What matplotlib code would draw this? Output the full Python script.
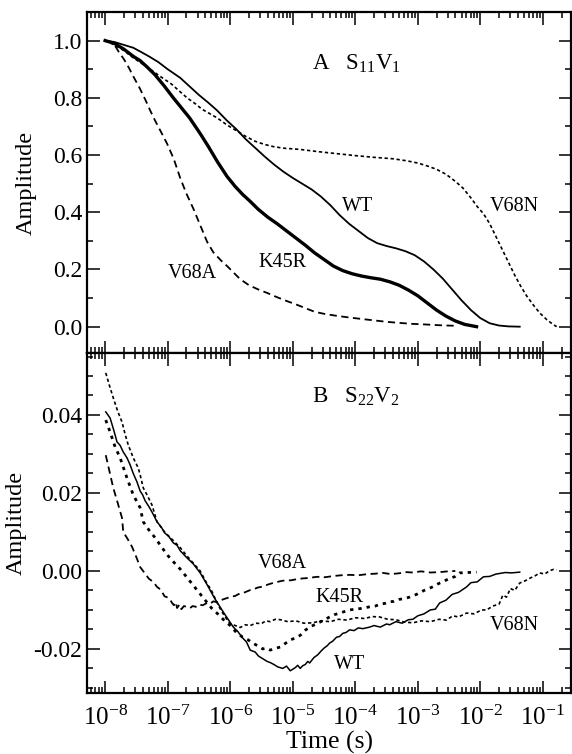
import numpy as np
import matplotlib
matplotlib.use("Agg")
import matplotlib.pyplot as plt
from matplotlib.ticker import LogLocator, MultipleLocator, NullFormatter

plt.rcParams['font.family'] = ['Liberation Serif', 'DejaVu Serif']
plt.rcParams['mathtext.fontset'] = 'custom'
plt.rcParams['mathtext.rm'] = 'Liberation Serif'
plt.rcParams['mathtext.it'] = 'Liberation Serif:italic'
plt.rcParams['axes.unicode_minus'] = False

# ---- panel A : S11V1, time given as log10(t / s) ----
wt_a_logt = [-8.0, -7.85, -7.70, -7.55, -7.44, -7.30, -7.15, -7.00, -6.80, -6.65, -6.50, -6.35, -6.21,
             -6.05, -5.90, -5.75, -5.60, -5.45, -5.30, -5.15, -5.00, -4.85, -4.70, -4.55, -4.40, -4.25,
             -4.10, -3.95, -3.80, -3.65, -3.50, -3.35, -3.20, -3.05, -2.90, -2.75, -2.60, -2.45, -2.30,
             -2.15, -2.00, -1.85, -1.70, -1.55, -1.37]
wt_a_amp = [1.0, 0.995, 0.985, 0.975, 0.962, 0.945, 0.925, 0.90, 0.87, 0.84, 0.81, 0.783, 0.756,
            0.72, 0.69, 0.655, 0.625, 0.595, 0.567, 0.542, 0.52, 0.50, 0.48, 0.455, 0.425, 0.39,
            0.36, 0.335, 0.31, 0.292, 0.282, 0.274, 0.264, 0.25, 0.228, 0.20, 0.168, 0.13, 0.092,
            0.058, 0.03, 0.012, 0.004, 0.001, 0.0]

k45r_a_logt = [-8.0, -7.85, -7.70, -7.55, -7.44, -7.33, -7.20, -7.05, -6.91, -6.78, -6.65, -6.48, -6.35,
               -6.20, -6.05, -5.92, -5.80, -5.68, -5.55, -5.40, -5.25, -5.10, -4.95, -4.80, -4.65, -4.50,
               -4.35, -4.20, -4.05, -3.90, -3.75, -3.60, -3.45, -3.30, -3.15, -3.00, -2.85, -2.70, -2.55,
               -2.40, -2.25, -2.06]
k45r_a_amp = [1.0, 0.99, 0.97, 0.945, 0.93, 0.908, 0.88, 0.84, 0.80, 0.765, 0.73, 0.675, 0.63,
              0.575, 0.525, 0.49, 0.462, 0.438, 0.41, 0.383, 0.36, 0.335, 0.31, 0.285, 0.258, 0.235,
              0.212, 0.196, 0.185, 0.177, 0.171, 0.166, 0.157, 0.145, 0.128, 0.108, 0.083, 0.058, 0.037,
              0.02, 0.008, 0.0]

v68a_a_logt = [-8.0, -7.92, -7.85, -7.78, -7.70, -7.62, -7.55, -7.45, -7.35, -7.28, -7.20, -7.10, -7.01,
               -6.90, -6.80, -6.70, -6.59, -6.48, -6.37, -6.27, -6.15, -6.05, -5.95, -5.84, -5.70, -5.55,
               -5.41, -5.25, -5.10, -4.95, -4.80, -4.65, -4.50, -4.30, -4.13, -3.90, -3.70, -3.50, -3.34,
               -3.10, -2.90, -2.65, -2.38]
v68a_a_amp = [1.0, 0.995, 0.985, 0.96, 0.935, 0.905, 0.875, 0.835, 0.79, 0.756, 0.72, 0.678, 0.64,
              0.585, 0.52, 0.465, 0.413, 0.355, 0.297, 0.26, 0.232, 0.212, 0.19, 0.166, 0.145, 0.13,
              0.118, 0.103, 0.09, 0.078, 0.065, 0.052, 0.045, 0.038, 0.033, 0.027, 0.022, 0.017, 0.014,
              0.010, 0.008, 0.005, 0.003]

v68n_a_logt = [-8.0, -7.85, -7.70, -7.55, -7.40, -7.28, -7.10, -6.95, -6.82, -6.69, -6.55, -6.45, -6.33,
               -6.21, -6.05, -5.90, -5.75, -5.60, -5.45, -5.30, -5.15, -4.90, -4.60, -4.30, -4.00, -3.70,
               -3.40, -3.18, -3.00, -2.85, -2.70, -2.55, -2.40, -2.28, -2.15, -2.05, -1.95, -1.85, -1.75,
               -1.65, -1.55, -1.45, -1.35, -1.26, -1.15, -1.05, -0.94, -0.85, -0.78]
v68n_a_amp = [1.0, 0.985, 0.965, 0.94, 0.918, 0.90, 0.872, 0.85, 0.825, 0.80, 0.778, 0.76, 0.745,
              0.73, 0.705, 0.685, 0.665, 0.648, 0.637, 0.629, 0.624, 0.62, 0.612, 0.605, 0.598, 0.592,
              0.587, 0.58, 0.572, 0.562, 0.55, 0.533, 0.508, 0.485, 0.45, 0.42, 0.395, 0.36, 0.315,
              0.27, 0.225, 0.18, 0.14, 0.108, 0.075, 0.048, 0.025, 0.01, 0.0]

# ---- panel B : S22V2 ----
wt_b_logt = [-7.99, -7.92, -7.86, -7.81, -7.76, -7.71, -7.65, -7.60, -7.55, -7.49, -7.44, -7.40, -7.36,
             -7.30, -7.25, -7.17, -7.10, -7.05, -6.98, -6.91, -6.85, -6.80, -6.70, -6.59, -6.48, -6.37,
             -6.25, -6.10, -5.95, -5.88, -5.80, -5.74, -5.68, -5.60, -5.55, -5.48, -5.41, -5.36, -5.30,
             -5.24, -5.16, -5.10, -5.04, -4.96, -4.92, -4.88, -4.84, -4.80, -4.76, -4.73, -4.66, -4.60,
             -4.55, -4.50, -4.45, -4.41, -4.36, -4.30, -4.25, -4.20, -4.15, -4.09, -4.02, -3.95, -3.88,
             -3.77, -3.70, -3.60, -3.50, -3.45, -3.35, -3.25, -3.15, -3.08, -3.00, -2.90, -2.80, -2.72,
             -2.65, -2.55, -2.45, -2.35, -2.22, -2.15, -2.05, -1.95, -1.85, -1.75, -1.60, -1.50, -1.37]
wt_b_amp = [0.0408, 0.0392, 0.0360, 0.0331, 0.0322, 0.0305, 0.0290, 0.0272, 0.0250, 0.0228, 0.0205,
            0.0195, 0.0180, 0.0165, 0.0151, 0.0126, 0.0112, 0.0098, 0.0088, 0.0072, 0.0066, 0.0052,
            0.0035, 0.0018, -0.0005, -0.0035, -0.0070, -0.0108, -0.0144, -0.0155, -0.0172, -0.0182,
            -0.0203, -0.0208, -0.0218, -0.0225, -0.0232, -0.0235, -0.0240, -0.0246, -0.0250, -0.0244,
            -0.0256, -0.0248, -0.0242, -0.0250, -0.0243, -0.0240, -0.0232, -0.0236, -0.0222, -0.0215,
            -0.0206, -0.0198, -0.0192, -0.0185, -0.0180, -0.0170, -0.0168, -0.0160, -0.0158, -0.0151,
            -0.0153, -0.0146, -0.0148, -0.0144, -0.0140, -0.0144, -0.0136, -0.0138, -0.0130, -0.0134,
            -0.0125, -0.0124, -0.0115, -0.0110, -0.0100, -0.0098, -0.0082, -0.0075, -0.0060, -0.0055,
            -0.0041, -0.0030, -0.0028, -0.0015, -0.0014, -0.0008, -0.0004, -0.0005, -0.0003]

k45r_b_logt = [-7.99, -7.92, -7.84, -7.76, -7.65, -7.55, -7.44, -7.39, -7.30, -7.20, -7.10, -7.00, -6.90,
               -6.80, -6.70, -6.60, -6.50, -6.40, -6.30, -6.20, -6.10, -6.00, -5.90, -5.80, -5.72, -5.64,
               -5.56, -5.48, -5.42, -5.36, -5.28, -5.20, -5.12, -5.04, -4.96, -4.88, -4.80, -4.73, -4.64,
               -4.55, -4.48, -4.41, -4.33, -4.25, -4.17, -4.09, -4.00, -3.90, -3.77, -3.68, -3.60, -3.52,
               -3.45, -3.38, -3.30, -3.22, -3.13, -3.02, -2.90, -2.78, -2.65, -2.50, -2.40, -2.33, -2.20,
               -2.06]
k45r_b_amp = [0.0387, 0.0356, 0.0318, 0.0290, 0.0238, 0.0195, 0.0162, 0.0126, 0.0105, 0.0085, 0.0062,
              0.0040, 0.0022, 0.0005, -0.0015, -0.0035, -0.0055, -0.0075, -0.0095, -0.0110, -0.0126,
              -0.0140, -0.0158, -0.0170, -0.0176, -0.0185, -0.0192, -0.0200, -0.0198, -0.0203, -0.0199,
              -0.0195, -0.0186, -0.0177, -0.0172, -0.0165, -0.0152, -0.0144, -0.0137, -0.0130, -0.0124,
              -0.0118, -0.0112, -0.0108, -0.0104, -0.0100, -0.0098, -0.0096, -0.0092, -0.0090, -0.0085,
              -0.0083, -0.0079, -0.0078, -0.0073, -0.0071, -0.0067, -0.0060, -0.0050, -0.0042, -0.0031,
              -0.0020, -0.0014, -0.0005, -0.0004, -0.0003]

v68a_b_logt = [-7.99, -7.93, -7.87, -7.80, -7.73, -7.71, -7.64, -7.57, -7.50, -7.44, -7.37, -7.30, -7.23,
               -7.17, -7.11, -7.05, -7.00, -6.96, -6.93, -6.90, -6.87, -6.85, -6.81, -6.78, -6.74, -6.70,
               -6.64, -6.60, -6.55, -6.50, -6.44, -6.37, -6.32, -6.27, -6.21, -6.15, -6.08, -6.00, -5.92,
               -5.85, -5.77, -5.68, -5.62, -5.57, -5.48, -5.40, -5.30, -5.16, -5.03, -4.90, -4.75, -4.61,
               -4.48, -4.35, -4.22, -4.09, -3.95, -3.80, -3.68, -3.56, -3.43, -3.30, -3.18, -3.08, -2.95,
               -2.80, -2.65, -2.52, -2.40]
v68a_b_amp = [0.0297, 0.0255, 0.0213, 0.0175, 0.0136, 0.0100, 0.0082, 0.0062, 0.0035, 0.0010, -0.0005,
              -0.0020, -0.0028, -0.0041, -0.0048, -0.0065, -0.0068, -0.0074, -0.0082, -0.0088, -0.0080,
              -0.0095, -0.0086, -0.0098, -0.0090, -0.0092, -0.0095, -0.0090, -0.0092, -0.0086, -0.0088,
              -0.0082, -0.0084, -0.0078, -0.0080, -0.0075, -0.0071, -0.0067, -0.0064, -0.0058, -0.0055,
              -0.0049, -0.0047, -0.0043, -0.0040, -0.0035, -0.0030, -0.0025, -0.0024, -0.0020, -0.0018,
              -0.0015, -0.0016, -0.0013, -0.0011, -0.0010, -0.0011, -0.0008, -0.0007, -0.0005, -0.0008,
              -0.0006, -0.0003, -0.0004, -0.0001, -0.0004, -0.0003, -0.0001, 0.0000]

v68n_b_logt = [-7.99, -7.93, -7.87, -7.80, -7.73, -7.68, -7.63, -7.55, -7.47, -7.43, -7.39, -7.33, -7.25,
               -7.17, -7.05, -6.91, -6.80, -6.70, -6.59, -6.48, -6.38, -6.30, -6.22, -6.15, -6.08, -6.00,
               -5.92, -5.84, -5.76, -5.68, -5.59, -5.50, -5.43, -5.36, -5.28, -5.20, -5.08, -4.95, -4.82,
               -4.68, -4.55, -4.40, -4.27, -4.13, -4.00, -3.85, -3.73, -3.61, -3.48, -3.35, -3.22, -3.08,
               -2.94, -2.80, -2.66, -2.54, -2.44, -2.35, -2.22, -2.10, -1.98, -1.90, -1.80, -1.70, -1.64,
               -1.58, -1.52, -1.45, -1.37, -1.28, -1.20, -1.12, -1.05, -0.97, -0.90, -0.83, -0.78]
v68n_b_amp = [0.0508, 0.0475, 0.0444, 0.0410, 0.0382, 0.0350, 0.0323, 0.0290, 0.0264, 0.0240, 0.0213,
              0.0195, 0.0169, 0.0126, 0.0100, 0.0078, 0.0060, 0.0040, 0.0020, 0.0000, -0.0030, -0.0050,
              -0.0078, -0.0100, -0.0118, -0.0135, -0.0140, -0.0145, -0.0138, -0.0140, -0.0134, -0.0135,
              -0.0128, -0.0130, -0.0124, -0.0125, -0.0130, -0.0128, -0.0134, -0.0133, -0.0128, -0.0130,
              -0.0124, -0.0126, -0.0120, -0.0122, -0.0117, -0.0118, -0.0124, -0.0125, -0.0131, -0.0133,
              -0.0128, -0.0130, -0.0124, -0.0126, -0.0115, -0.0118, -0.0108, -0.0110, -0.0100, -0.0100,
              -0.0090, -0.0085, -0.0062, -0.0067, -0.0045, -0.0050, -0.0031, -0.0025, -0.0018, -0.0012,
              -0.0005, -0.0008, 0.0000, 0.0004, 0.0003]

xtick_exps = [-8, -7, -6, -5, -4, -3, -2, -1]
xtick_labels = [r'$\mathregular{10^{%d}}$' % e for e in xtick_exps]

fig = plt.figure(figsize=(5.72, 7.54), dpi=100)
ax_a = fig.add_axes([87 / 572, 401 / 754, 484 / 572, 341 / 754])
ax_b = fig.add_axes([87 / 572, 61 / 754, 484 / 572, 340 / 754])

t = lambda lg: 10.0 ** np.array(lg)

ax_a.plot(t(wt_a_logt), wt_a_amp, color='black', lw=1.3, ls='-')
ax_a.plot(t(k45r_a_logt), k45r_a_amp, color='black', lw=2.4, ls='-')
ax_a.plot(t(v68a_a_logt), v68a_a_amp, color='black', lw=1.3, dashes=(4, 2.5))
ax_a.plot(t(v68n_a_logt), v68n_a_amp, color='black', lw=1.2, dashes=(2, 1.6))

ax_b.plot(t(wt_b_logt), wt_b_amp, color='black', lw=1.1, ls='-')
ax_b.plot(t(k45r_b_logt), k45r_b_amp, color='black', lw=2.0, dashes=(1.2, 1.8))
ax_b.plot(t(v68a_b_logt), v68a_b_amp, color='black', lw=1.3, dashes=(4, 2.5))
ax_b.plot(t(v68n_b_logt), v68n_b_amp, color='black', lw=1.2, dashes=(2, 1.6))

for ax in (ax_a, ax_b):
    ax.set_xscale('log')
    ax.set_xlim(10 ** -8.29, 10 ** -0.55)
    ax.set_xticks([10.0 ** e for e in xtick_exps])
    ax.xaxis.set_minor_locator(LogLocator(base=10, subs=np.arange(2, 10), numticks=20))
    ax.xaxis.set_minor_formatter(NullFormatter())
    ax.tick_params(which='both', direction='in', top=True, right=True, width=1.1)
    ax.tick_params(which='major', length=9)
    ax.tick_params(which='minor', length=4.5)
    ax.tick_params(axis='y', labelsize=17)
    for sp in ax.spines.values():
        sp.set_linewidth(1.6)

ax_a.set_ylim(-0.092, 1.10)
ax_a.set_yticks([0.0, 0.2, 0.4, 0.6, 0.8, 1.0])
ax_a.set_yticklabels(['0.0', '0.2', '0.4', '0.6', '0.8', '1.0'])
ax_a.yaxis.set_minor_locator(MultipleLocator(0.1))
ax_a.tick_params(axis='x', labelbottom=False)
ax_a.set_ylabel('Amplitude', fontsize=17.5)
ax_a.yaxis.set_label_coords(-0.103, 0.5)

ax_b.set_ylim(-0.0313, 0.0559)
ax_b.set_yticks([-0.02, 0.0, 0.02, 0.04])
ax_b.set_yticklabels(['-0.02', '0.00', '0.02', '0.04'])
ax_b.yaxis.set_minor_locator(MultipleLocator(0.005))
ax_b.set_xticklabels(xtick_labels)
ax_b.tick_params(axis='x', which='major', pad=9, labelsize=18)
ax_b.set_ylabel('Amplitude', fontsize=17.5)
ax_b.yaxis.set_label_coords(-0.124, 0.5)
ax_b.set_xlabel('Time (s)', fontsize=18.5, labelpad=1)

# panel titles and curve labels
ax_a.text(10 ** -4.69, 0.897, r'A   S$_{\mathregular{11}}$V$_{\mathregular{1}}$', fontsize=16.5, va='baseline', ha='left')
ax_b.text(10 ** -4.69, 0.0431, r'B   S$_{\mathregular{22}}$V$_{\mathregular{2}}$', fontsize=16.5, va='baseline', ha='left')

ax_a.text(10 ** -3.96, 0.42, 'WT', fontsize=14.5, ha='center', va='center')
ax_a.text(10 ** -1.45, 0.42, 'V68N', fontsize=14.5, ha='center', va='center')
ax_a.text(10 ** -5.16, 0.226, 'K45R', fontsize=14.5, ha='center', va='center')
ax_a.text(10 ** -6.61, 0.187, 'V68A', fontsize=14.5, ha='center', va='center')

ax_b.text(10 ** -5.17, 0.0018, 'V68A', fontsize=14.5, ha='center', va='center')
ax_b.text(10 ** -4.25, -0.0067, 'K45R', fontsize=14.5, ha='center', va='center')
ax_b.text(10 ** -1.45, -0.0141, 'V68N', fontsize=14.5, ha='center', va='center')
ax_b.text(10 ** -4.09, -0.0241, 'WT', fontsize=14.5, ha='center', va='center')

fig.savefig('out.png', dpi=100)
